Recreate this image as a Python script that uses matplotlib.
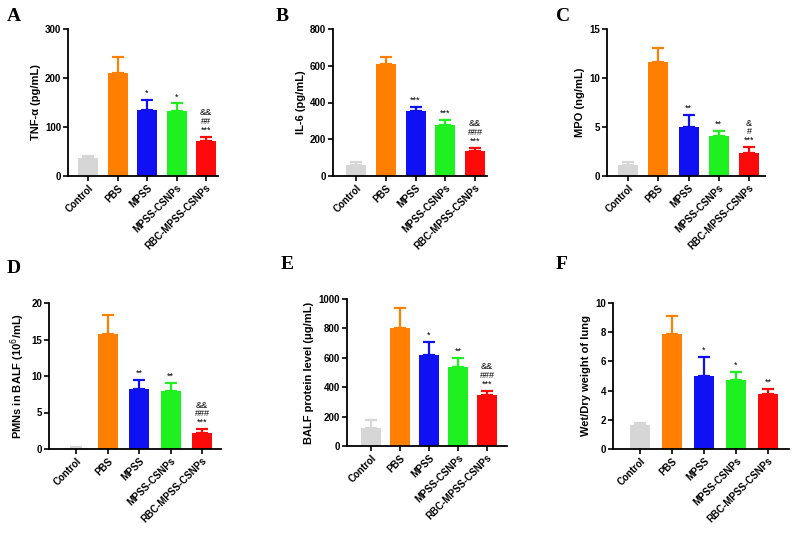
import numpy as np
import matplotlib
matplotlib.use('Agg')
import matplotlib.pyplot as plt

plt.rcParams['font.family'] = ['Liberation Sans', 'DejaVu Sans']

groups = ['Control', 'PBS', 'MPSS', 'MPSS-CSNPs', 'RBC-MPSS-CSNPs']
colors = ['#d6d6d6', '#ff8000', '#1010f5', '#1ff01f', '#ff0a0a']

tnf = [37, 210, 134, 133, 71]
tnf_err = [4, 33, 21, 15, 9]
il6 = [62, 608, 355, 280, 138]
il6_err = [13, 37, 20, 25, 17]
mpo = [1.1, 11.6, 5.0, 4.1, 2.3]
mpo_err = [0.3, 1.5, 1.2, 0.45, 0.65]
pmn = [0.2, 15.7, 8.2, 7.9, 2.2]
pmn_err = [0.05, 2.6, 1.3, 1.1, 0.5]
balf = [125, 800, 620, 540, 350]
balf_err = [50, 140, 85, 60, 25]
wd = [1.65, 7.9, 5.0, 4.75, 3.8]
wd_err = [0.15, 1.2, 1.3, 0.5, 0.3]

sig_a = ['', '', '*', '*', '&&\n##\n***']
sig_b = ['', '', '***', '***', '&&\n###\n***']
sig_c = ['', '', '**', '**', '&\n#\n***']
sig_d = ['', '', '**', '**', '&&\n###\n***']
sig_e = ['', '', '*', '**', '&&\n###\n***']
sig_f = ['', '', '*', '*', '**']

W, H = 796, 533
fig = plt.figure(figsize=(W / 100, H / 100), dpi=100)

# panel: data, err, sig, ylabel, ymax, ystep, letter, pixel box (x0, x1, ytop, ybot), bar centres (first, last)
panels = [
    (tnf, tnf_err, sig_a, 'TNF-α (pg/mL)', 300, 100, 'A', (68, 218, 29, 176), (88, 206), (7, 21)),
    (il6, il6_err, sig_b, 'IL-6 (pg/mL)', 800, 200, 'B', (333, 487, 29, 176), (356, 475), (276, 21)),
    (mpo, mpo_err, sig_c, 'MPO (ng/mL)', 15, 5, 'C', (607, 765, 29, 176), (628, 749), (556, 21)),
    (pmn, pmn_err, sig_d, 'PMNs in BALF (10$^6$/mL)', 20, 5, 'D', (49, 221, 303, 449), (76, 202), (7, 273)),
    (balf, balf_err, sig_e, 'BALF protein level (μg/mL)', 1000, 200, 'E', (347, 507, 299, 446), (371, 487), (281, 269)),
    (wd, wd_err, sig_f, 'Wet/Dry weight of lung', 10, 2, 'F', (613, 789, 303, 449), (640, 768), (556, 269)),
]

for vals, err, sig, ylab, ymax, ystep, letter, box, centres, lpos in panels:
    x0, x1, yt, yb = box
    ax = fig.add_axes([x0 / W, 1 - yb / H, (x1 - x0) / W, (yb - yt) / H])
    unit = (centres[1] - centres[0]) / 4
    ax.set_xlim((x0 - centres[0]) / unit, (x1 - centres[0]) / unit)
    ax.set_ylim(0, ymax)
    x = np.arange(len(groups))
    bw = 20 / unit
    ax.bar(x, vals, width=bw, color=colors, zorder=2)
    for i in range(len(groups)):
        ax.errorbar(x[i], vals[i], yerr=[[0], [err[i]]], color=colors[i],
                    capsize=4.5, elinewidth=1.6, capthick=1.6, zorder=1)
        if sig[i]:
            ax.text(x[i], vals[i] + err[i] + ymax * 0.015, sig[i], ha='center', va='bottom',
                    fontsize=6.5, linespacing=0.95)
    ax.set_yticks(np.arange(0, ymax + ystep / 2, ystep))
    ax.set_xticks(x)
    ax.set_xticklabels(groups, rotation=45, ha='right', rotation_mode='anchor')
    for s in ['top', 'right']:
        ax.spines[s].set_visible(False)
    for s in ['left', 'bottom']:
        ax.spines[s].set_linewidth(1.3)
    ax.tick_params(width=1.2, length=3.5, labelsize=7, pad=1.5)
    for t in ax.get_xticklabels() + ax.get_yticklabels():
        t.set_fontweight('bold')
    ax.set_ylabel(ylab, fontsize=8, fontweight='bold', labelpad=3)
    fig.text(lpos[0] / W, 1 - lpos[1] / H, letter, fontsize=14, fontweight='bold',
             family='Liberation Serif', ha='left', va='baseline')

fig.savefig('out.png', dpi=100)
